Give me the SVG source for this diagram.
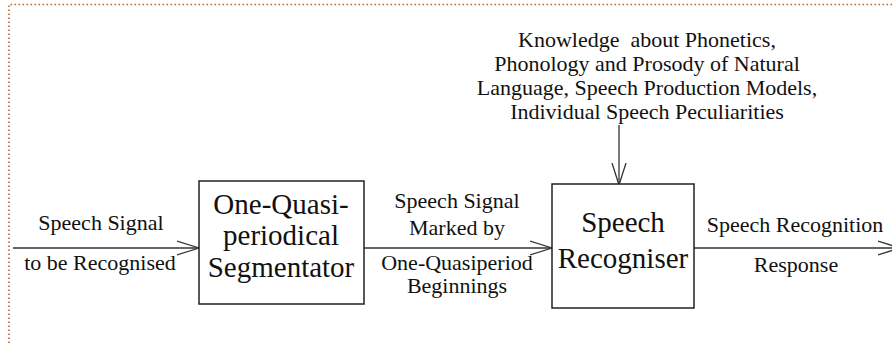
<svg xmlns="http://www.w3.org/2000/svg" width="892" height="343" viewBox="0 0 892 343">
<style>
text{font-family:"Liberation Serif","Times New Roman",serif;fill:#111;text-anchor:middle;white-space:pre}
.lbl{font-size:22px}
.big{font-size:29px}
.box{fill:#fff;stroke:#222;stroke-width:1.5}
.conn{stroke:#333;stroke-width:1.3;fill:none}
.border{stroke:#c0622e;stroke-width:1.6;stroke-dasharray:1.6 2.4;fill:none}
</style>
<defs>
<marker id="ah" markerWidth="24" markerHeight="16" refX="22" refY="8" orient="auto" markerUnits="userSpaceOnUse">
<path d="M0,1 L22,8 L0,15" fill="none" stroke="#333" stroke-width="1.3"/>
</marker>
</defs>
<path class="border" d="M9,343 V4.5 H892"/>
<g id="connectors">
<line class="conn" x1="13" y1="248" x2="199" y2="248" marker-end="url(#ah)"/>
<line class="conn" x1="364" y1="248" x2="552" y2="248" marker-end="url(#ah)"/>
<line class="conn" x1="694" y1="248" x2="900" y2="248" marker-end="url(#ah)"/>
<line class="conn" x1="619" y1="125" x2="619" y2="185" marker-end="url(#ah)"/>
</g>
<g id="knowledge">
<text class="lbl" x="647" y="47" xml:space="preserve">Knowledge  about Phonetics,</text>
<text class="lbl" x="647" y="71">Phonology and Prosody of Natural</text>
<text class="lbl" x="647" y="95">Language, Speech Production Models,</text>
<text class="lbl" x="647" y="119">Individual Speech Peculiarities</text>
</g>
<g id="input-label">
<text class="lbl" x="101" y="230">Speech Signal</text>
<text class="lbl" x="100" y="270">to be Recognised</text>
</g>
<g id="segmentator">
<rect class="box" x="199" y="181" width="165" height="123"/>
<text class="big" x="281" y="214">One-Quasi-</text>
<text class="big" x="281" y="245">periodical</text>
<text class="big" x="281" y="277">Segmentator</text>
</g>
<g id="middle-label">
<text class="lbl" x="457" y="208">Speech Signal</text>
<text class="lbl" x="457" y="235">Marked by</text>
<text class="lbl" x="457" y="270">One-Quasiperiod</text>
<text class="lbl" x="457" y="293">Beginnings</text>
</g>
<g id="recogniser">
<rect class="box" x="552" y="184" width="142" height="124"/>
<text class="big" x="623" y="232">Speech</text>
<text class="big" x="623" y="268">Recogniser</text>
</g>
<g id="output-label">
<text class="lbl" x="795" y="232">Speech Recognition</text>
<text class="lbl" x="796" y="272">Response</text>
</g>
</svg>
